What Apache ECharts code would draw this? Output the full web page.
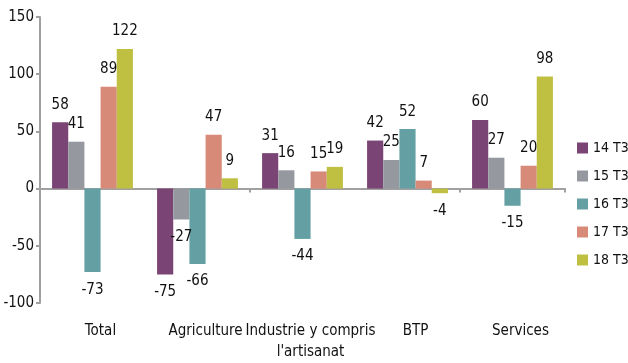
<!DOCTYPE html>
<html><head><meta charset="utf-8">
<script src="https://cdn.jsdelivr.net/npm/echarts@6/dist/echarts.min.js"></script>
<style>html,body{margin:0;padding:0;background:#fff}#c{width:628px;height:363px}</style>
</head><body><div id="c"></div>
<script>
const categories = ['Total', 'Agriculture', "Industrie y compris\nl'artisanat", 'BTP', 'Services'];
const seriesNames = ['14 T3', '15 T3', '16 T3', '17 T3', '18 T3'];
const s14 = [58, -75, 31, 42, 60];
const s15 = [41, -27, 16, 25, 27];
const s16 = [-73, -66, -44, 52, -15];
const s17 = [89, 47, 15, 7, 20];
const s18 = [122, 9, 19, -4, 98];
const yTicks = [-100, -50, 0, 50, 100, 150];
const colors = ['#7A4574', '#95989F', '#64A0A3', '#D88A78', '#BFBF42'];
const FONT = '"Liberation Sans Narrow", "DejaVu Sans Condensed", "Liberation Sans", sans-serif';

const all = [s14, s15, s16, s17, s18];
const chart = echarts.init(document.getElementById('c'));
chart.setOption({
  animation: false,
  textStyle: {fontFamily: FONT},
  grid: {left: 40, right: 63, top: 17, bottom: 56, containLabel: false},
  legend: {
    orient: 'vertical', left: 577, top: 141, padding: 0,
    itemWidth: 11, itemHeight: 11, itemGap: 14,
    icon: 'rect',
    textStyle: {fontFamily: FONT, fontSize: 14, color: '#111'},
    data: seriesNames
  },
  xAxis: [{
    type: 'category', data: categories, position: 'bottom',
    axisLine: {show: false, onZero: false}, axisTick: {show: false},
    axisLabel: {interval: 0, fontFamily: FONT, fontSize: 15, color: '#111', margin: 18, lineHeight: 21, padding: [0, 0, 0, 16]}
  }, {
    type: 'category', data: categories, position: 'bottom',
    axisLine: {show: true, onZero: true, lineStyle: {color: '#A0A0A0', width: 2}},
    axisTick: {show: true, length: 4, lineStyle: {color: '#A0A0A0', width: 2}},
    axisLabel: {show: false}
  }],
  yAxis: {
    type: 'value', min: yTicks[0], max: yTicks[yTicks.length - 1], interval: 50,
    splitLine: {show: false},
    axisLine: {show: true, lineStyle: {color: '#A0A0A0', width: 2}},
    axisTick: {show: true, length: 4, lineStyle: {color: '#A0A0A0', width: 2}},
    axisLabel: {fontFamily: FONT, fontSize: 15, color: '#111', margin: 6}
  },
  series: all.map((arr, i) => ({
    name: seriesNames[i], type: 'bar', xAxisIndex: 0,
    barGap: '0%', barCategoryGap: '23%',
    itemStyle: {color: colors[i]},
    data: arr.map(v => ({
      value: v,
      label: {show: true, position: v >= 0 ? 'top' : 'bottom', distance: 10,
        fontFamily: FONT, fontSize: 15, color: '#111'}
    }))
  }))
});
</script></body></html>
